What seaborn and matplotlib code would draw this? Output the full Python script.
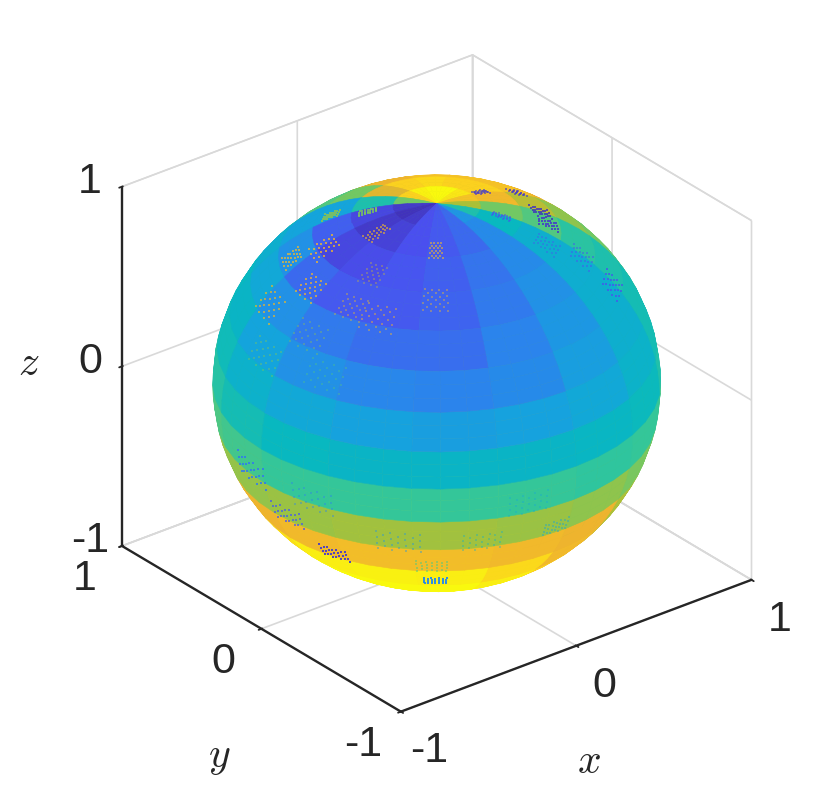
# sphere surface, 16 latitude bands x 16 longitude sectors, matlab style view
import numpy as np
import matplotlib
matplotlib.use("Agg")
import matplotlib.pyplot as plt
import seaborn as sns

# band edges, north to south (deg)
lat_edges = [90, 78.75, 67.5, 56.25, 45, 33.75, 22.5, 11.25, 0,
             -11.25, -22.5, -33.75, -45, -56.25, -67.5, -78.75, -90]
# sector edges, starts at the left silhouette and goes round (deg)
lon_edges = [135, 157.5, 180, 202.5, 225, 247.5, 270, 292.5, 315,
             337.5, 360, 382.5, 405, 427.5, 450, 472.5, 495]

# colour value of each patch, one row per band
band_1 = [.05, .03, .05, .10, .12, .15, .25, .45, .70, .85, .95, 1.0, 1.0, .98, .90, .60]
band_2 = [.08, .05, .07, .10, .12, .15, .22, .40, .60, .82, .90, .90, .92, .90, .78, .45]
band_3 = [.13, .08, .09, .11, .13, .17, .22, .35, .55, .72, .85, .85, .85, .80, .60, .30]
band_4 = [.24, .15, .12, .12, .14, .18, .24, .34, .48, .65, .80, .80, .80, .75, .55, .30]
band_5 = [.32, .24, .18, .16, .16, .20, .26, .35, .45, .60, .70, .70, .70, .65, .50, .35]
band_6 = [.38, .30, .24, .21, .20, .22, .28, .35, .43, .55, .60, .60, .60, .55, .50, .40]
band_7 = [.42, .36, .32, .29, .28, .29, .32, .37, .43, .50, .55, .55, .55, .50, .45, .42]
band_8 = [.47, .43, .40, .38, .38, .38, .39, .41, .46, .50, .50, .50, .50, .50, .50, .48]
band_9 = [.54, .52, .50, .50, .50, .50, .49, .50, .53, .55, .55, .55, .55, .55, .55, .55]
band_10 = [.66, .66, .67, .68, .68, .67, .65, .61, .55, .60, .60, .60, .60, .60, .60, .62]
band_11 = [.76, .80, .82, .83, .83, .82, .80, .70, .58, .65, .70, .70, .70, .70, .70, .72]
band_12 = [.88, .93, .97, .98, .97, .92, .82, .70, .55, .70, .80, .80, .80, .80, .80, .82]
band_13 = [1.0, 1.0, 1.0, 1.0, 1.0, .97, .90, .80, .60, .80, .90, .90, .90, .90, .90, .90]
band_14 = [1.0, 1.0, 1.0, 1.0, 1.0, 1.0, .95, .90, .80, .90, 1.0, 1.0, 1.0, 1.0, 1.0, 1.0]
band_15 = [1.0, 1.0, 1.0, 1.0, 1.0, 1.0, 1.0, 1.0, 1.0, 1.0, 1.0, 1.0, 1.0, 1.0, 1.0, 1.0]
band_16 = [1.0, 1.0, 1.0, 1.0, 1.0, 1.0, 1.0, 1.0, 1.0, 1.0, 1.0, 1.0, 1.0, 1.0, 1.0, 1.0]
bands = [band_1, band_2, band_3, band_4, band_5, band_6, band_7, band_8,
         band_9, band_10, band_11, band_12, band_13, band_14, band_15, band_16]

# the speckled spots on the surface: centre, colour value, how strong, how wide
speck_lat = [61, 72, 58, 71, 49, 48, 37, 59, 48, 47, 36.5, 25.5, 28, 70, 54,
             75, 62, 61, 60, 73, 59, 49, 37.5,
             -10, -10, -20.5, -31.6, -20, -31, -41, -8, -20, -20]
speck_lon = [129, 140, 159, 176, 150, 174, 162, 198, 197, 209, 186, 173, 197, 231, 231,
             362, 362, 338, 326, 313, 305, 314, 314,
             174, 197, 186, 199, 221, 230, 231, 256, 244, 266]
speck_val = [.65, .62, .82, .80, .82, .80, .78, .75, .78, .80, .65, .62, .55, .82, .82,
             .05, .05, .03, .05, .10, .12, .12, .10,
             .18, .20, .12, .05, .25, .55, .22, .30, .35, .30]
speck_alpha = [.8, .8, .75, .6, .7, .7, .7, .35, .4, .45, .35, .4, .35, .55, .4,
               .6, .6, .8, .85, .5, .4, .5, .7,
               .85, .4, .7, .9, .4, .5, .95, .3, .35, .4]
speck_size = [.5, .5, .8, .7, .6, .7, .8, .7, .7, .8, .8, .8, .8, .6, .7,
              .5, .5, .6, .6, .5, .7, .7, .7,
              .8, .8, .7, .6, .8, .6, .5, .7, .7, .5]
speck_step_lat = [-4.5, -3, -1.5, 0, 1.5, 3, 4.5]
speck_step_lon = [-7.5, -5, -2.5, 0, 2.5, 5, 7.5]

tick_vals = [-1, 0, 1]
tick_labels = ["-1", "0", "1"]

parula_colors = ["#3e26a8", "#4a50f0", "#2b84ec", "#14a5dc", "#08b8c0",
                 "#33c69a", "#72c864", "#abc037", "#eeb42e", "#fbd01f", "#f9f90e"]

sns.set_theme(style="white")
plt.rcParams["font.family"] = ["Liberation Sans", "DejaVu Sans"]
plt.rcParams["mathtext.fontset"] = "cm"
cmap = sns.blend_palette(parula_colors, as_cmap=True)


def on_sphere(lat_deg, lon_deg):
    la = np.radians(lat_deg)
    lo = np.radians(lon_deg)
    return np.cos(la) * np.cos(lo), np.cos(la) * np.sin(lo), np.sin(la)


# split each patch so the outline stays round
split = 3
vals = np.repeat(np.repeat(np.array(bands), split, axis=0), split, axis=1)
lat = np.interp(np.arange(16 * split + 1) / split, np.arange(17), lat_edges)
lon = np.interp(np.arange(16 * split + 1) / split, np.arange(17), lon_edges)
LON, LAT = np.meshgrid(lon, lat)
X, Y, Z = on_sphere(LAT, LON)

fig = plt.figure(figsize=(8.3, 7.95), dpi=100)
ax = fig.add_axes([11 / 830, 3.5 / 795, 1, 1], projection="3d", proj_type="ortho")
ax.view_init(elev=28.2, azim=-128.5)
ax.set_box_aspect((1, 1, 0.91), zoom=0.92)
ax.computed_zorder = False

ax.plot_surface(X, Y, Z, facecolors=cmap(vals), rstride=1, cstride=1, shade=False,
                linewidth=0.4, antialiased=True, zorder=2)

for la0, lo0, v, a, w in zip(speck_lat, speck_lon, speck_val, speck_alpha, speck_size):
    la_s = [la0 + w * dl for i, dl in enumerate(speck_step_lat) for j, dm in enumerate(speck_step_lon) if (i + j) % 2 == 0]
    lo_s = [lo0 + w * dm for i, dl in enumerate(speck_step_lat) for j, dm in enumerate(speck_step_lon) if (i + j) % 2 == 0]
    sx, sy, sz = on_sphere(np.array(la_s), np.array(lo_s))
    ax.scatter(sx, sy, sz, color=cmap(v), s=4, marker="s", linewidths=0, alpha=a,
               depthshade=False, zorder=3)

ax.set_xlim(-1, 1)
ax.set_ylim(-1, 1)
ax.set_zlim(-1, 1)
ax.set_xticks(tick_vals)
ax.set_yticks(tick_vals)
ax.set_zticks(tick_vals)

for axis in (ax.xaxis, ax.yaxis, ax.zaxis):
    axis.set_pane_color((1, 1, 1, 1))
    axis.pane.set_edgecolor("#d9d9d9")
    axis.line.set_color("#262626")
    axis.line.set_linewidth(1.7)
    axis._axinfo["grid"].update(color="#d9d9d9", linewidth=1.2)
    axis._axinfo["tick"].update(inward_factor=0.1, outward_factor=0.03, linewidth={True: 1.3, False: 1.3})
    # labels are placed by hand below, switch the native ones off
    axis.set_tick_params(label1On=False, label2On=False)
    axis.label.set_visible(False)
    axis.offsetText.set_visible(False)

ax.grid(True)

# tick labels and axis names sit off the box, the native spots are too far from the matlab ones
for v, s in zip(tick_vals, tick_labels):
    ax.text(v + 0.16, -1, -1.28, s, fontsize=31, color="#262626", ha="center", va="center", zorder=5)
    ax.text(-1, v + 0.27, -1.31, s, fontsize=31, color="#262626", ha="center", va="center", zorder=5)
    ax.text(-1, 1.23, v - 0.08, s, fontsize=31, color="#262626", ha="center", va="center", zorder=5)
ax.text(0.07, -1, -1.675, "$x$", fontsize=30, color="#262626", ha="center", va="center", zorder=5)
ax.text(-1, 0.3, -1.85, "$y$", fontsize=30, color="#262626", ha="center", va="center", zorder=5)
ax.text(-1, 1.67, -0.295, "$z$", fontsize=30, color="#262626", ha="center", va="center", rotation=90, zorder=5)

fig.savefig("out.png", dpi=100)
